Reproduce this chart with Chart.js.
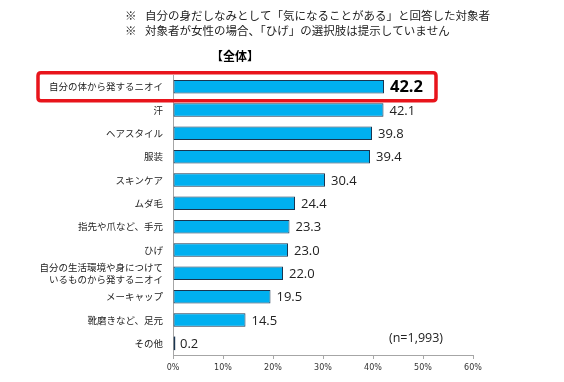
<!DOCTYPE html>
<html><head><meta charset="utf-8">
<script src="https://cdn.jsdelivr.net/npm/chart.js@4/dist/chart.umd.min.js"></script>
<style>html,body{margin:0;padding:0;background:#fff;}#wrap{width:564px;height:382px;position:relative;}</style>
</head><body><div id="wrap"><canvas id="c" width="564" height="382"></canvas></div>
<script>
const categories = ["自分の体から発するニオイ","汗","ヘアスタイル","服装","スキンケア","ムダ毛","指先や爪など、手元","ひげ",["自分の生活環境や身につけて","いるものから発するニオイ"],"メーキャップ","靴磨きなど、足元","その他"];
const values = [42.2,42.1,39.8,39.4,30.4,24.4,23.3,23.0,22.0,19.5,14.5,0.2];
const xTicks = [0,10,20,30,40,50,60];
const notes = ["※","自分の身だしなみとして「気になることがある」と回答した対象者","対象者が女性の場合、「ひげ」の選択肢は提示していません"];
const subtitle = "【全体】";
const sampleNote = "(n=1,993)";
const JP = '"Noto Sans CJK JP", "Noto Sans", sans-serif';
const LAT = '"Open Sans", "Noto Sans", sans-serif';

const overlay = {
  id:'overlay',
  afterDatasetsDraw(chart){
    const ctx = chart.ctx;
    const meta = chart.getDatasetMeta(0);
    ctx.save();
    meta.data.forEach((bar,i)=>{
      if(Math.abs(bar.x-bar.base)<2){
        ctx.fillStyle='#1a3550';
        ctx.fillRect(Math.round(bar.base), bar.y-bar.height/2, 1.2, bar.height);
      }
    });
    ctx.textBaseline='middle';
    meta.data.forEach((bar,i)=>{
      const v = values[i];
      if(i===0){ ctx.font='bold 16.5px '+LAT; ctx.fillStyle='#000'; }
      else { ctx.font='13px '+LAT; ctx.fillStyle='#222'; }
      ctx.textAlign='left';
      ctx.fillText(v.toFixed(1), bar.x+6, bar.y+1);
    });
    const b0 = meta.data[0];
    ctx.strokeStyle='#e8141b'; ctx.lineWidth=3.5;
    ctx.beginPath();
    const x0=38,x1=436,y0=b0.y-14,y1=b0.y+14;
    const r=3;
    ctx.moveTo(x0+r,y0);ctx.lineTo(x1-r,y0);ctx.quadraticCurveTo(x1,y0,x1,y0+r);
    ctx.lineTo(x1,y1-r);ctx.quadraticCurveTo(x1,y1,x1-r,y1);
    ctx.lineTo(x0+r,y1);ctx.quadraticCurveTo(x0,y1,x0,y1-r);
    ctx.lineTo(x0,y0+r);ctx.quadraticCurveTo(x0,y0,x0+r,y0);
    ctx.stroke();
    ctx.fillStyle='#222'; ctx.font='11.5px '+JP; ctx.textAlign='left';
    ctx.fillText(notes[0],125,16);
    ctx.fillText(notes[1],145,16);
    ctx.fillText(notes[0],125,31);
    ctx.fillText(notes[2],145,31);
    ctx.font='bold 12px '+JP; ctx.fillStyle='#000';
    ctx.fillText(subtitle,211,56);
    ctx.font='12.5px '+LAT; ctx.fillStyle='#222';
    ctx.fillText(sampleNote,389,338);
    ctx.restore();
  }
};

new Chart(document.getElementById('c'),{
  type:'bar',
  data:{labels:categories,datasets:[{data:values,backgroundColor:'#00b0f0',borderColor:'#1a3550',borderWidth:1,borderSkipped:false,categoryPercentage:0.58,barPercentage:1.0}]},
  options:{
    indexAxis:'y',responsive:false,animation:false,
    layout:{padding:{top:75,right:91,left:0,bottom:0}},
    plugins:{legend:{display:false},tooltip:{enabled:false}},
    scales:{
      x:{min:0,max:60,
        afterBuildTicks(s){s.ticks=xTicks.map(v=>({value:v}));},
        afterFit(s){s.height=27;},
        border:{display:true,color:'#a6a6a6',width:1},
        grid:{display:true,drawOnChartArea:false,drawTicks:true,tickLength:4,color:'#a6a6a6'},
        ticks:{callback:v=>v+'%',font:{family:'"DejaVu Sans", sans-serif',size:8},color:'#333',padding:4,maxRotation:0}
      },
      y:{
        afterFit(s){s.width=173;},
        border:{display:true,color:'#a6a6a6',width:1},
        grid:{display:false,drawTicks:false},
        ticks:{font:{family:JP,size:9.5,lineHeight:1.3},color:'#222',padding:10,autoSkip:false}
      }
    }
  },
  plugins:[overlay]
});
</script></body></html>
